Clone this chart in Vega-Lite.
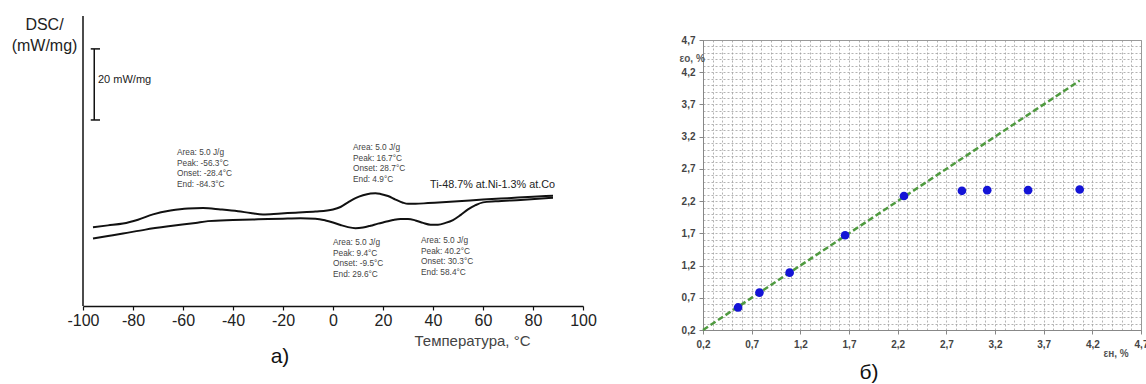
{
  "$schema": "https://vega.github.io/schema/vega-lite/v6.json",
  "background": "white",
  "padding": {"left": 11, "top": 15, "right": 0, "bottom": 0},
  "autosize": {"type": "pad"},
  "bounds": "flush",
  "center": true,
  "spacing": 120,
  "config": {"font": "Liberation Sans", "view": {"stroke": null}},
  "datasets": {
    "dsc": [
      {"run": "heat", "t": -96, "v": 22.3}, {"run": "heat", "t": -90, "v": 22.8}, {"run": "heat", "t": -84, "v": 23.3},
      {"run": "heat", "t": -78, "v": 24.4}, {"run": "heat", "t": -72, "v": 25.9}, {"run": "heat", "t": -65, "v": 27.0},
      {"run": "heat", "t": -58, "v": 27.6}, {"run": "heat", "t": -52, "v": 27.7}, {"run": "heat", "t": -45, "v": 27.3},
      {"run": "heat", "t": -38, "v": 26.8}, {"run": "heat", "t": -33, "v": 26.3}, {"run": "heat", "t": -28, "v": 25.9},
      {"run": "heat", "t": -22, "v": 26.1}, {"run": "heat", "t": -15, "v": 26.4}, {"run": "heat", "t": -7, "v": 26.7},
      {"run": "heat", "t": 0, "v": 27.3}, {"run": "heat", "t": 3, "v": 28.0}, {"run": "heat", "t": 6, "v": 29.3},
      {"run": "heat", "t": 9, "v": 30.5}, {"run": "heat", "t": 12, "v": 31.3}, {"run": "heat", "t": 15, "v": 31.8},
      {"run": "heat", "t": 17, "v": 31.9}, {"run": "heat", "t": 19, "v": 31.7}, {"run": "heat", "t": 22, "v": 31.1},
      {"run": "heat", "t": 25, "v": 30.1}, {"run": "heat", "t": 28, "v": 29.2}, {"run": "heat", "t": 30, "v": 28.9},
      {"run": "heat", "t": 33, "v": 28.9}, {"run": "heat", "t": 38, "v": 29.1}, {"run": "heat", "t": 50, "v": 29.6},
      {"run": "heat", "t": 60, "v": 30.1}, {"run": "heat", "t": 70, "v": 30.5}, {"run": "heat", "t": 80, "v": 30.9},
      {"run": "heat", "t": 88, "v": 31.2},
      {"run": "cool", "t": -96, "v": 19.1}, {"run": "cool", "t": -90, "v": 19.8}, {"run": "cool", "t": -84, "v": 20.5},
      {"run": "cool", "t": -75, "v": 21.6}, {"run": "cool", "t": -65, "v": 22.6}, {"run": "cool", "t": -55, "v": 23.5},
      {"run": "cool", "t": -50, "v": 24.0}, {"run": "cool", "t": -40, "v": 24.3}, {"run": "cool", "t": -30, "v": 24.5},
      {"run": "cool", "t": -20, "v": 24.7}, {"run": "cool", "t": -13, "v": 24.8}, {"run": "cool", "t": -7, "v": 24.7},
      {"run": "cool", "t": -3, "v": 24.2}, {"run": "cool", "t": 0, "v": 23.6}, {"run": "cool", "t": 3, "v": 22.9},
      {"run": "cool", "t": 6, "v": 22.3}, {"run": "cool", "t": 9, "v": 22.0}, {"run": "cool", "t": 12, "v": 22.2},
      {"run": "cool", "t": 15, "v": 22.7}, {"run": "cool", "t": 18, "v": 23.3}, {"run": "cool", "t": 21, "v": 23.8},
      {"run": "cool", "t": 24, "v": 24.3}, {"run": "cool", "t": 27, "v": 24.6}, {"run": "cool", "t": 30, "v": 24.6},
      {"run": "cool", "t": 33, "v": 24.2}, {"run": "cool", "t": 36, "v": 23.5}, {"run": "cool", "t": 39, "v": 23.0},
      {"run": "cool", "t": 42, "v": 23.0}, {"run": "cool", "t": 45, "v": 23.5}, {"run": "cool", "t": 48, "v": 24.3},
      {"run": "cool", "t": 51, "v": 25.7}, {"run": "cool", "t": 54, "v": 27.3}, {"run": "cool", "t": 57, "v": 28.5},
      {"run": "cool", "t": 60, "v": 29.3}, {"run": "cool", "t": 65, "v": 29.6}, {"run": "cool", "t": 75, "v": 30.0},
      {"run": "cool", "t": 88, "v": 30.6}
    ],
    "notes": [
      {"t": -62.4, "v": 44.7, "label": "Area: 5.0 J/g\nPeak: -56.3°C\nOnset: -28.4°C\nEnd: -84.3°C"},
      {"t": 8.0, "v": 46.1, "label": "Area: 5.0 J/g\nPeak: 16.7°C\nOnset: 28.7°C\nEnd: 4.9°C"},
      {"t": 0.0, "v": 19.2, "label": "Area: 5.0 J/g\nPeak: 9.4°C\nOnset: -9.5°C\nEnd: 29.6°C"},
      {"t": 35.2, "v": 19.8, "label": "Area: 5.0 J/g\nPeak: 40.2°C\nOnset: 30.3°C\nEnd: 58.4°C"}
    ],
    "alloy": [{"t": 38.8, "v": 34.2, "label": "Ti-48.7% at.Ni-1.3% at.Co"}],
    "scalebar": [{"t": -95.5, "t1": -96.9, "t2": -93.2, "lo": 52.6, "hi": 72.7, "tt": -94, "vt": 63.9, "label": "20 mW/mg"}],
    "captionA": [{"t": -21.2, "v": -14.42, "label": "а)"}],
    "captionB": [{"eh": 1.906, "eo": -0.467, "label": "б)"}],
    "strain": [
      {"eh": 0.56, "eo": 0.55}, {"eh": 0.78, "eo": 0.78}, {"eh": 1.09, "eo": 1.09},
      {"eh": 1.66, "eo": 1.67}, {"eh": 2.265, "eo": 2.28}, {"eh": 2.86, "eo": 2.36},
      {"eh": 3.12, "eo": 2.37}, {"eh": 3.54, "eo": 2.37}, {"eh": 4.07, "eo": 2.38}
    ],
    "fit": [{"eh": 0.2, "eo": 0.2}, {"eh": 4.07, "eo": 4.07}]
  },
  "hconcat": [
    {
      "width": 500,
      "height": 338,
      "view": {"stroke": null},
      "layer": [
        {
          "data": {"name": "dsc"},
          "mark": {"type": "line", "color": "#111", "strokeWidth": 2, "interpolate": "monotone"},
          "encoding": {
            "x": {
              "field": "t", "type": "quantitative",
              "scale": {"domain": [-100, 100], "nice": false, "zero": false},
              "axis": {
                "values": [-100, -90, -80, -70, -60, -50, -40, -30, -20, -10, 0, 10, 20, 30, 40, 50, 60, 70, 80, 90, 100],
                "offset": -48, "grid": false,
                "tickSize": 4, "tickColor": "#111", "tickWidth": 1.2,
                "domainColor": "#111", "domainWidth": 1.5,
                "labelExpr": "datum.value % 20 == 0 ? '' + datum.value : ''",
                "labelOverlap": false, "labelFlush": false,
                "labelFontSize": 16, "labelColor": "#222", "labelPadding": 2,
                "title": "Температура, °C", "titleX": 447, "titleY": 34,
                "titleAlign": "right", "titleBaseline": "middle",
                "titleFontSize": 15, "titleFontWeight": "normal", "titleColor": "#444"
              }
            },
            "y": {
              "field": "v", "type": "quantitative",
              "scale": {"domain": [-13.57, 82], "nice": false, "zero": false},
              "axis": {
                "domain": false, "ticks": false, "labels": false, "grid": false,
                "title": ["DSC/", "(mW/mg)"], "titleAngle": 0, "titleAlign": "center",
                "titleBaseline": "top", "titleX": -39, "titleY": 0,
                "titleFontSize": 16, "titleFontWeight": "normal", "titleColor": "#222",
                "titleLineHeight": 21
              }
            },
            "detail": {"field": "run"}
          }
        },
        {
          "data": {"values": [{}]},
          "mark": {"type": "rule", "color": "#111", "strokeWidth": 1.5},
          "encoding": {"x": {"datum": -100}, "y": {"datum": 0}, "y2": {"datum": 82}}
        },
        {
          "data": {"name": "scalebar"},
          "mark": {"type": "rule", "color": "#111", "strokeWidth": 1.5},
          "encoding": {"x": {"field": "t", "type": "quantitative"}, "y": {"field": "lo", "type": "quantitative"}, "y2": {"field": "hi"}}
        },
        {
          "data": {"name": "scalebar"},
          "mark": {"type": "rule", "color": "#111", "strokeWidth": 1.5},
          "encoding": {"x": {"field": "t1", "type": "quantitative"}, "x2": {"field": "t2"}, "y": {"field": "lo", "type": "quantitative"}}
        },
        {
          "data": {"name": "scalebar"},
          "mark": {"type": "rule", "color": "#111", "strokeWidth": 1.5},
          "encoding": {"x": {"field": "t1", "type": "quantitative"}, "x2": {"field": "t2"}, "y": {"field": "hi", "type": "quantitative"}}
        },
        {
          "data": {"name": "scalebar"},
          "mark": {"type": "text", "align": "left", "baseline": "middle", "fontSize": 11, "color": "#222"},
          "encoding": {"x": {"field": "tt", "type": "quantitative"}, "y": {"field": "vt", "type": "quantitative"}, "text": {"field": "label"}}
        },
        {
          "data": {"name": "notes"},
          "mark": {"type": "text", "align": "left", "baseline": "top", "fontSize": 8.3, "lineHeight": 10.7, "lineBreak": "\n", "color": "#444"},
          "encoding": {"x": {"field": "t", "type": "quantitative"}, "y": {"field": "v", "type": "quantitative"}, "text": {"field": "label"}}
        },
        {
          "data": {"name": "alloy"},
          "mark": {"type": "text", "align": "left", "baseline": "middle", "fontSize": 10.8, "color": "#222"},
          "encoding": {"x": {"field": "t", "type": "quantitative"}, "y": {"field": "v", "type": "quantitative"}, "text": {"field": "label"}}
        },
        {
          "data": {"name": "captionA"},
          "mark": {"type": "text", "align": "center", "baseline": "middle", "fontSize": 21, "color": "#111"},
          "encoding": {"x": {"field": "t", "type": "quantitative"}, "y": {"field": "v", "type": "quantitative"}, "text": {"field": "label"}}
        }
      ]
    },
    {
      "width": 438,
      "height": 290,
      "view": {"stroke": "#999", "strokeWidth": 1},
      "encoding": {
        "x": {
          "field": "eh", "type": "quantitative",
          "scale": {"domain": [0.2, 4.7], "nice": false, "zero": false},
          "axis": {
            "values": [0.2,0.3,0.4,0.5,0.6,0.7,0.8,0.9,1,1.1,1.2,1.3,1.4,1.5,1.6,1.7,1.8,1.9,2,2.1,2.2,2.3,2.4,2.5,2.6,2.7,2.8,2.9,3,3.1,3.2,3.3,3.4,3.5,3.6,3.7,3.8,3.9,4,4.1,4.2,4.3,4.4,4.5,4.6,4.7],
            "grid": true, "gridColor": "#999", "gridDash": [2, 2], "gridWidth": 1, "gridOpacity": 0.75,
            "labelExpr": "(round(datum.value*10)-2)%5==0 ? replace(format(datum.value,'.1f'),'.',',') : ''",
            "labelOverlap": false, "labelFlush": false,
            "labelFontSize": 10, "labelFontWeight": "bold", "labelColor": "#444", "labelPadding": 5,
            "tickSize": 4, "tickColor": "#888",
            "tickOpacity": {"condition": {"test": "(round(datum.value*10)-2)%5==0", "value": 1}, "value": 0},
            "domainColor": "#888",
            "title": "εн, %", "titleX": 400, "titleY": 23, "titleAlign": "left", "titleBaseline": "middle",
            "titleFontSize": 10, "titleFontWeight": "bold", "titleColor": "#555"
          }
        },
        "y": {
          "field": "eo", "type": "quantitative",
          "scale": {"domain": [0.2, 4.7], "nice": false, "zero": false},
          "axis": {
            "values": [0.2,0.3,0.4,0.5,0.6,0.7,0.8,0.9,1,1.1,1.2,1.3,1.4,1.5,1.6,1.7,1.8,1.9,2,2.1,2.2,2.3,2.4,2.5,2.6,2.7,2.8,2.9,3,3.1,3.2,3.3,3.4,3.5,3.6,3.7,3.8,3.9,4,4.1,4.2,4.3,4.4,4.5,4.6,4.7],
            "grid": true, "gridColor": "#999", "gridDash": [2, 2], "gridWidth": 1, "gridOpacity": 0.75,
            "labelExpr": "(round(datum.value*10)-2)%5==0 ? replace(format(datum.value,'.1f'),'.',',') : ''",
            "labelOverlap": false, "labelFlush": false,
            "labelFontSize": 10, "labelFontWeight": "bold", "labelColor": "#444", "labelPadding": 4,
            "tickSize": 4, "tickColor": "#888",
            "tickOpacity": {"condition": {"test": "(round(datum.value*10)-2)%5==0", "value": 1}, "value": 0},
            "domainColor": "#888",
            "title": "εо, %", "titleAngle": 0, "titleX": -24, "titleY": 18, "titleAlign": "left", "titleBaseline": "middle",
            "titleFontSize": 10, "titleFontWeight": "bold", "titleColor": "#555"
          }
        }
      },
      "layer": [
        {
          "data": {"name": "fit"},
          "mark": {"type": "line", "color": "#4f9a3f", "strokeWidth": 2.5, "strokeDash": [6, 3]}
        },
        {
          "data": {"name": "strain"},
          "mark": {"type": "circle", "color": "#1414d6", "opacity": 1, "size": 75}
        },
        {
          "data": {"name": "captionB"},
          "mark": {"type": "text", "align": "center", "baseline": "middle", "fontSize": 21, "color": "#111"},
          "encoding": {"text": {"field": "label"}}
        }
      ]
    }
  ]
}
